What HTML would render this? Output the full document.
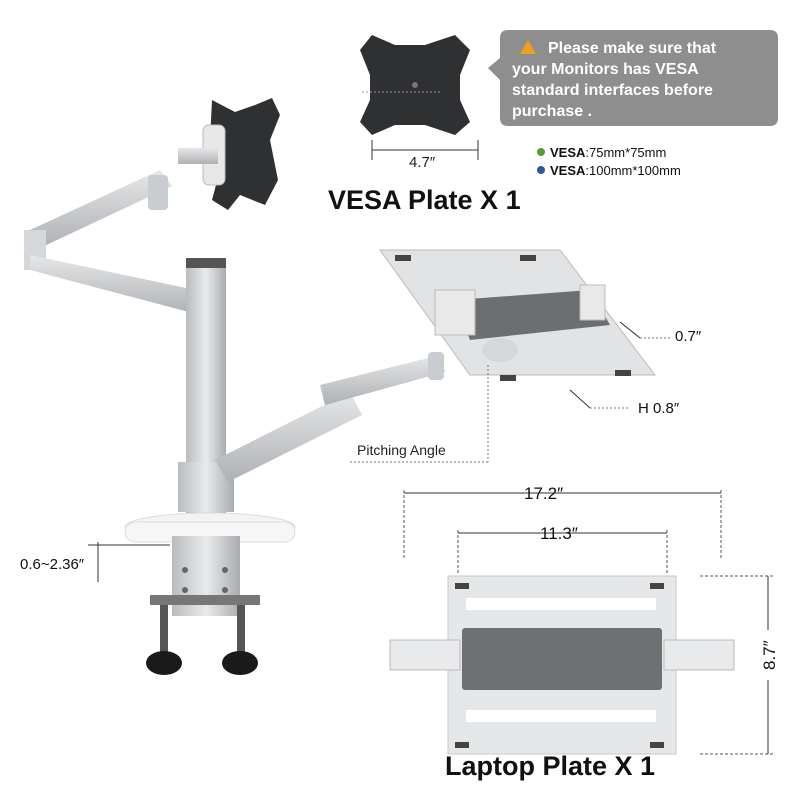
<!DOCTYPE html>
<html><head><meta charset="utf-8"><style>
html,body{margin:0;padding:0;background:#fff;width:800px;height:800px;overflow:hidden}
svg{display:block}
text{font-family:"Liberation Sans",sans-serif}
</style></head><body>
<svg width="800" height="800" viewBox="0 0 800 800" xmlns="http://www.w3.org/2000/svg">
<defs>
<linearGradient id="sil" x1="0" y1="0" x2="1" y2="0"><stop offset="0" stop-color="#b9bcbf"/><stop offset=".5" stop-color="#e9eaeb"/><stop offset="1" stop-color="#a9acaf"/></linearGradient>
<linearGradient id="silv" x1="0" y1="0" x2="0" y2="1"><stop offset="0" stop-color="#e6e7e8"/><stop offset="1" stop-color="#aeb1b4"/></linearGradient>
</defs>
<!-- VESA plate top -->
<path d="M372,35 L395,45 L425,45 L455,35 L470,50 L460,75 L460,100 L470,122 L455,135 L425,125 L395,125 L372,135 L360,122 L370,100 L370,75 L360,50 Z" fill="#2f3032"/>
<circle cx="415" cy="85" r="3" fill="#777"/>
<line x1="372" y1="140" x2="372" y2="160" stroke="#333"/><line x1="478" y1="140" x2="478" y2="160" stroke="#333"/>
<line x1="372" y1="150" x2="478" y2="150" stroke="#333"/>
<text x="409" y="167" font-size="15" fill="#222">4.7″</text>
<line x1="440" y1="92" x2="360" y2="92" stroke="#999" stroke-dasharray="2,2"/>
<!-- callout -->
<path d="M508,30 L770,30 Q778,30 778,38 L778,118 Q778,126 770,126 L508,126 Q500,126 500,118 L500,80 L488,68 L500,58 L500,38 Q500,30 508,30 Z" fill="#8e8e8e"/>
<polygon points="528,40 520,54 536,54" fill="#f0a020"/>
<text font-size="16" fill="#fff" font-weight="bold"><tspan x="548" y="53">Please make sure that</tspan><tspan x="512" y="74">your Monitors has VESA</tspan><tspan x="512" y="95">standard interfaces before</tspan><tspan x="512" y="116">purchase .</tspan></text>
<circle cx="541" cy="152" r="4" fill="#5a9a3a"/><circle cx="541" cy="170" r="4" fill="#2a5a9a"/>
<text x="550" y="157" font-size="13" fill="#111"><tspan font-weight="bold">VESA</tspan>:75mm*75mm</text>
<text x="550" y="175" font-size="13" fill="#111"><tspan font-weight="bold">VESA</tspan>:100mm*100mm</text>
<text x="328" y="209" font-size="27" font-weight="bold" fill="#111">VESA Plate X 1</text>
<!-- monitor vesa on arm -->
<path d="M212,100 L235,112 L255,105 L272,98 L280,115 L270,140 L278,180 L265,205 L240,195 L228,210 L212,200 L220,170 L210,140 Z" fill="#2f3032"/>
<rect x="203" y="125" width="22" height="60" rx="6" fill="#e8e8e8" stroke="#bbb"/>
<rect x="178" y="148" width="40" height="16" fill="url(#silv)"/>
<!-- upper arm -->
<polygon points="30,230 160,170 172,186 40,248" fill="url(#silv)"/>
<rect x="148" y="175" width="20" height="35" rx="4" fill="#c9ccd0"/>
<rect x="24" y="230" width="22" height="40" fill="#d5d7da"/>
<polygon points="30,255 205,292 200,315 30,270" fill="url(#silv)"/>
<!-- pole -->
<rect x="186" y="258" width="40" height="270" fill="url(#sil)"/>
<rect x="186" y="258" width="40" height="10" fill="#555"/>
<rect x="178" y="462" width="56" height="50" fill="url(#sil)"/>
<!-- lower arm -->
<polygon points="215,460 350,392 362,415 228,482" fill="url(#silv)"/>
<polygon points="320,385 440,355 445,372 325,405" fill="url(#silv)"/>
<rect x="428" y="352" width="16" height="28" rx="4" fill="#c9ccd0"/>
<!-- clamp base -->
<ellipse cx="210" cy="527" rx="85" ry="14" fill="#f3f3f3" stroke="#ddd"/>
<rect x="125" y="522" width="170" height="20" rx="10" fill="#f6f6f6" stroke="#ddd"/>
<rect x="172" y="536" width="68" height="80" fill="url(#sil)"/>
<circle cx="185" cy="570" r="3" fill="#666"/><circle cx="225" cy="570" r="3" fill="#666"/>
<circle cx="185" cy="590" r="3" fill="#666"/><circle cx="225" cy="590" r="3" fill="#666"/>
<rect x="150" y="595" width="110" height="10" fill="#777"/>
<rect x="160" y="605" width="8" height="50" fill="#555"/><rect x="237" y="605" width="8" height="50" fill="#555"/>
<ellipse cx="164" cy="663" rx="18" ry="12" fill="#1a1a1a"/><ellipse cx="240" cy="663" rx="18" ry="12" fill="#1a1a1a"/>
<line x1="98" y1="542" x2="98" y2="582" stroke="#333"/>
<line x1="88" y1="545" x2="170" y2="545" stroke="#333"/>
<text x="20" y="569" font-size="15" fill="#111">0.6~2.36″</text>
<!-- laptop tray upper -->
<polygon points="380,250 560,250 655,375 470,375" fill="#e2e3e5" stroke="#bbb"/>
<polygon points="455,300 590,290 610,325 470,340" fill="#6d6e70"/>
<rect x="435" y="290" width="40" height="45" fill="#e9e9e9" stroke="#bbb"/>
<rect x="580" y="285" width="25" height="35" fill="#e9e9e9" stroke="#bbb"/>
<rect x="395" y="255" width="16" height="6" fill="#444"/><rect x="520" y="255" width="16" height="6" fill="#444"/>
<rect x="500" y="375" width="16" height="6" fill="#444"/><rect x="615" y="370" width="16" height="6" fill="#444"/>
<ellipse cx="500" cy="350" rx="18" ry="12" fill="#d5d7da"/>
<line x1="620" y1="322" x2="640" y2="338" stroke="#333"/>
<text x="675" y="341" font-size="15" fill="#111">0.7″</text>
<line x1="640" y1="338" x2="670" y2="338" stroke="#777" stroke-dasharray="2,2"/>
<line x1="570" y1="390" x2="590" y2="408" stroke="#333"/>
<line x1="590" y1="408" x2="630" y2="408" stroke="#777" stroke-dasharray="2,2"/>
<text x="638" y="413" font-size="15" fill="#111">H 0.8″</text>
<line x1="488" y1="365" x2="488" y2="462" stroke="#777" stroke-dasharray="2,2"/>
<line x1="350" y1="462" x2="488" y2="462" stroke="#777" stroke-dasharray="2,2"/>
<text x="357" y="455" font-size="14" fill="#222">Pitching Angle</text>
<!-- bottom dimensions -->
<line x1="404" y1="490" x2="404" y2="560" stroke="#555" stroke-dasharray="3,2"/>
<line x1="721" y1="490" x2="721" y2="560" stroke="#555" stroke-dasharray="3,2"/>
<line x1="404" y1="493" x2="721" y2="493" stroke="#333"/>
<text x="524" y="499" font-size="17" fill="#111">17.2″</text>
<line x1="458" y1="530" x2="458" y2="575" stroke="#555" stroke-dasharray="3,2"/>
<line x1="667" y1="530" x2="667" y2="575" stroke="#555" stroke-dasharray="3,2"/>
<line x1="458" y1="533" x2="667" y2="533" stroke="#333"/>
<text x="540" y="539" font-size="17" fill="#111">11.3″</text>
<!-- laptop plate -->
<rect x="448" y="576" width="228" height="178" fill="#e6e7e8" stroke="#c8c8c8"/>
<rect x="466" y="598" width="190" height="12" fill="#fff"/>
<rect x="466" y="710" width="190" height="12" fill="#fff"/>
<rect x="462" y="628" width="200" height="62" rx="3" fill="#6f7072"/>
<rect x="390" y="640" width="70" height="30" fill="#e9eaeb" stroke="#bbb"/>
<rect x="664" y="640" width="70" height="30" fill="#e9eaeb" stroke="#bbb"/>
<rect x="455" y="583" width="14" height="6" fill="#444"/><rect x="650" y="583" width="14" height="6" fill="#444"/>
<rect x="455" y="742" width="14" height="6" fill="#444"/><rect x="650" y="742" width="14" height="6" fill="#444"/>
<line x1="700" y1="576" x2="775" y2="576" stroke="#555" stroke-dasharray="3,2"/>
<line x1="700" y1="754" x2="775" y2="754" stroke="#555" stroke-dasharray="3,2"/>
<line x1="768" y1="576" x2="768" y2="754" stroke="#333"/>
<rect x="758" y="630" width="20" height="50" fill="#fff"/>
<text x="775" y="670" font-size="17" fill="#111" transform="rotate(-90 775 670)" >8.7″</text>
<text x="445" y="775" font-size="27" font-weight="bold" fill="#111">Laptop Plate  X 1</text>
</svg>
</body></html>
